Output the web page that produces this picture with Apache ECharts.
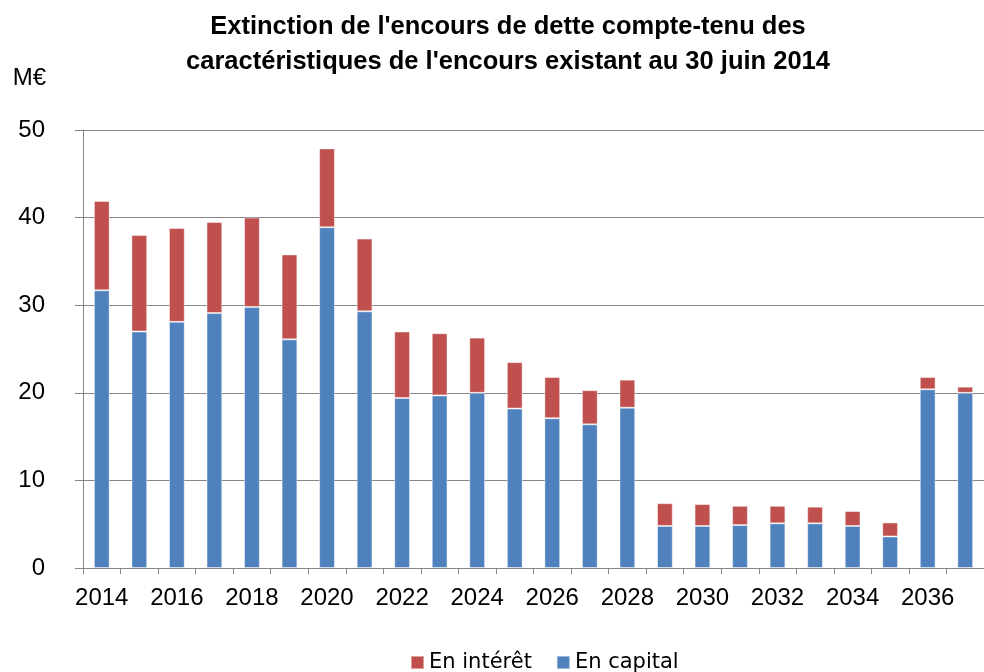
<!DOCTYPE html>
<html>
<head>
<meta charset="utf-8">
<script src="https://cdn.jsdelivr.net/npm/echarts@6/dist/echarts.min.js"></script>
<style>
  html, body { margin: 0; padding: 0; background: #fff; }
  #main { width: 984px; height: 672px; }
</style>
</head>
<body>
<div id="main"></div>
<script>
// années
var years = ['2014', '2015', '2016', '2017', '2018', '2019', '2020', '2021', '2022', '2023', '2024', '2025',
    '2026', '2027', '2028', '2029', '2030', '2031', '2032', '2033', '2034', '2035', '2036', '2037'];
// en capital (M€)
var capital = [31.7, 27.0, 28.1, 29.1, 29.8, 26.1, 38.9, 29.3, 19.4, 19.7, 20.0, 18.2,
    17.1, 16.4, 18.3, 4.8, 4.8, 4.9, 5.1, 5.1, 4.8, 3.6, 20.4, 20.0];
// en intérêt (M€)
var interet = [10.2, 11.0, 10.7, 10.4, 10.2, 9.7, 9.0, 8.3, 7.6, 7.1, 6.3, 5.3,
    4.7, 3.9, 3.2, 2.6, 2.5, 2.2, 2.0, 1.9, 1.7, 1.6, 1.4, 0.7];
var yTicks = [0, 10, 20, 30, 40, 50];

var chart = echarts.init(document.getElementById('main'));
var axisGrey = '#868686';
var labelFont = '"Liberation Sans", Arial, sans-serif';

chart.setOption({
    animation: false,
    title: {
        text: "Extinction de l'encours de dette compte-tenu des\ncaractéristiques de l'encours existant au 30 juin 2014",
        left: 503,
        top: 4,
        textAlign: 'center',
        textStyle: {
            fontFamily: labelFont,
            fontWeight: 'bold',
            fontSize: 25.5,
            lineHeight: 35,
            color: '#000'
        }
    },
    legend: {
        data: ['En intérêt', 'En capital'],
        left: 405,
        top: 647,
        itemWidth: 13,
        itemHeight: 13,
        itemGap: 24,
        icon: 'rect',
        textStyle: { fontFamily: '"DejaVu Sans", sans-serif', fontSize: 21, color: '#000' }
    },
    grid: { left: 83, top: 130, width: 912, height: 438, containLabel: false },
    xAxis: {
        type: 'category',
        data: years,
        axisLine: { lineStyle: { color: axisGrey, width: 1 } },
        axisTick: { show: true, interval: 0, length: 6, lineStyle: { color: axisGrey } },
        axisLabel: {
            interval: 1,
            margin: 18,
            fontFamily: labelFont,
            fontSize: 24,
            color: '#000'
        },
        splitLine: { show: false }
    },
    yAxis: {
        type: 'value',
        min: yTicks[0],
        max: yTicks[yTicks.length - 1],
        interval: 10,
        name: 'M€',
        nameLocation: 'end',
        nameGap: 40,
        nameTextStyle: {
            fontFamily: labelFont,
            fontSize: 24,
            color: '#000',
            align: 'right',
            padding: [0, 37, 0, 0]
        },
        axisLine: { show: true, lineStyle: { color: axisGrey, width: 1 } },
        axisTick: { show: true, length: 8, lineStyle: { color: axisGrey } },
        axisLabel: {
            margin: 38,
            fontFamily: labelFont,
            fontSize: 24,
            color: '#000'
        },
        splitLine: { show: true, lineStyle: { color: axisGrey, width: 1 } }
    },
    series: [
        {
            name: 'En capital',
            type: 'bar',
            stack: 'total',
            barWidth: '42%',
            data: capital,
            itemStyle: { color: '#4F81BD', borderColor: 'rgba(255,255,255,0.45)', borderWidth: 1 }
        },
        {
            name: 'En intérêt',
            type: 'bar',
            stack: 'total',
            barWidth: '42%',
            data: interet,
            itemStyle: { color: '#C0504D', borderColor: 'rgba(255,255,255,0.45)', borderWidth: 1 }
        }
    ]
});
</script>
</body>
</html>
